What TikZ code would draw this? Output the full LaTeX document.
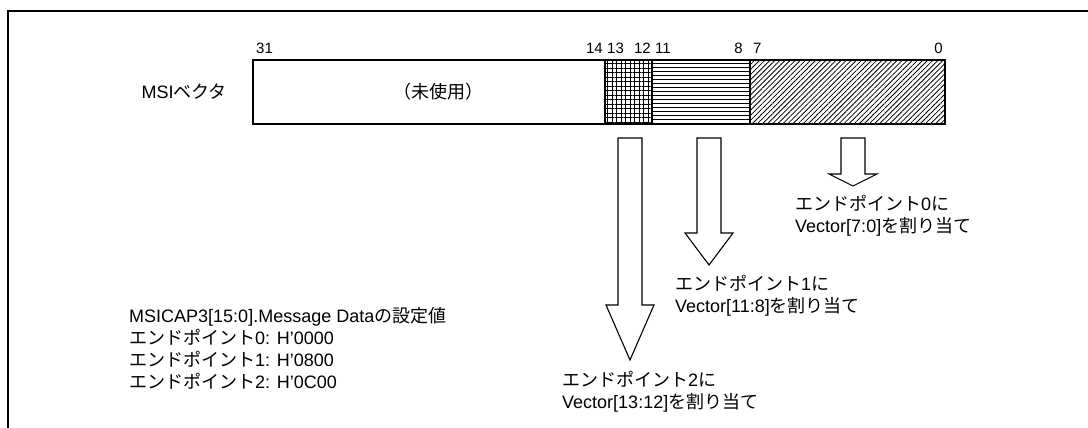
\documentclass[tikz,border=0pt]{standalone}
\usepackage{fontspec}
\setmainfont{Liberation Sans}
\newfontfamily\jpfont{Noto Sans CJK JP}
\newcommand\jtext[1]{{\jpfont #1}}
\usetikzlibrary{patterns.meta}

\tikzset{
  lbl/.style={inner sep=0pt,align=left,font=\fontsize{18}{22}\selectfont},
  bitno/.style={inner sep=0pt,font=\fontsize{15}{18}\selectfont},
  hollowarrow/.style={draw,line width=1.1pt,fill=white,line join=miter},
}

\begin{document}
\begin{tikzpicture}[x=1pt,y=-1pt]
  \useasboundingbox (0,0) rectangle (1088,428);
  % frame, open at the right and at the bottom
  \draw[line width=2.6pt] (1088,11) -- (8,11) -- (8,428);
  % register fields (bit 31 .. bit 0)
  \path[pattern={Hatch[distance=4.5pt,line width=0.9pt]}] (605,60) rectangle (652,124);
  \foreach \ly in {63.5,67.5,...,121.5}
    \draw[line width=0.9pt] (652,\ly) -- (750,\ly);
  \path[pattern={Lines[angle=45,distance=3.6pt,line width=0.8pt]}] (750,60) rectangle (945,124);
  \draw[line width=2.4pt] (253,60) rectangle (945,124);
  \foreach \bx in {605,652,750}
    \draw[line width=1.6pt] (\bx,60) -- (\bx,124);
  % bit numbers
  \node[bitno,anchor=west] (b31) at (256,48) {31};
  \node[bitno,anchor=east] (b14) at (603,48) {14};
  \node[bitno,anchor=west] (b13) at (607,48) {13};
  \node[bitno,anchor=east] (b12) at (651,48) {12};
  \node[bitno,anchor=west] (b11) at (655,48) {11};
  \node[bitno,anchor=east] (b8) at (743,48) {8};
  \node[bitno,anchor=west] (b7) at (753,48) {7};
  \node[bitno,anchor=east] (b0) at (943,48) {0};
  % register name and unused field
  \node[lbl,anchor=east] (vecname) at (227,92) {MSI\jtext{ベクタ}};
  \node[lbl] (unusedtxt) at (438,92) {\jtext{（未使用）}};
  % hollow arrows: centre x / head start / tip
  \foreach \cx/\hy/\ty in {630/305/360, 709/233/265, 853/174/186}
    \draw[hollowarrow] (\cx-12,138) -- (\cx+12,138) -- (\cx+12,\hy) -- (\cx+24,\hy)
      -- (\cx,\ty) -- (\cx-24,\hy) -- (\cx-12,\hy) -- cycle;
  % assignments
  \node[lbl,anchor=west] (ep0) at (795,216)
    {\jtext{エンドポイント}0\jtext{に}\\Vector[7:0]\jtext{を割り当て}};
  \node[lbl,anchor=west] (ep1) at (675,296)
    {\jtext{エンドポイント}1\jtext{に}\\Vector[11:8]\jtext{を割り当て}};
  \node[lbl,anchor=west] (ep2) at (562,392)
    {\jtext{エンドポイント}2\jtext{に}\\Vector[13:12]\jtext{を割り当て}};
  % message data values
  \node[lbl,anchor=west] (msgdata) at (129,348)
    {MSICAP3[15:0].Message Data\jtext{の設定値}\\
     \jtext{エンドポイント}0: H'0000\\
     \jtext{エンドポイント}1: H'0800\\
     \jtext{エンドポイント}2: H'0C00};
\end{tikzpicture}
\end{document}
